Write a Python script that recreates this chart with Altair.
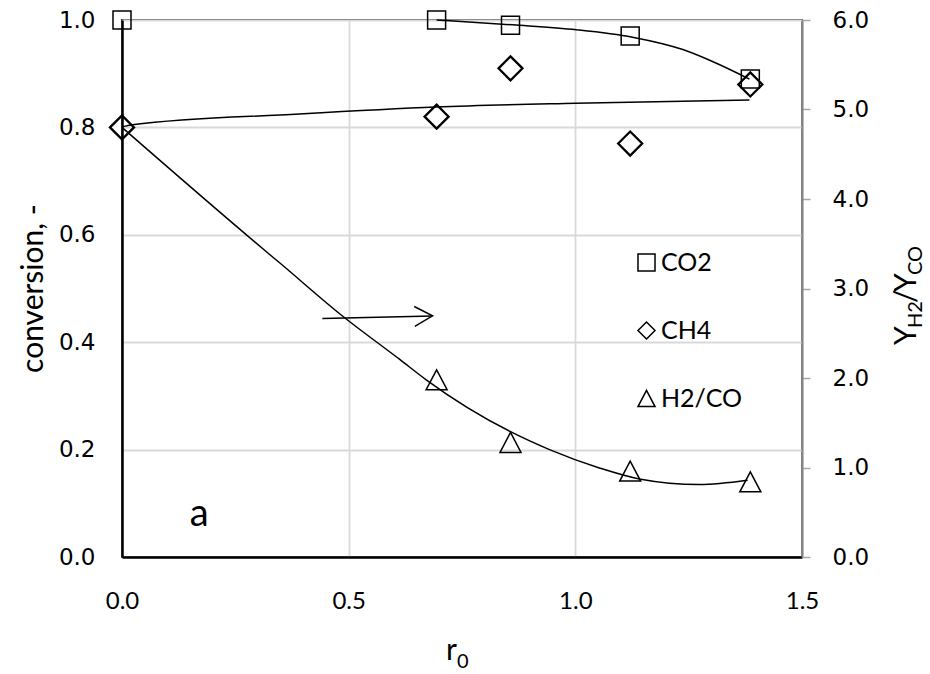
import altair as alt
import pandas as pd

# ---- measured data -------------------------------------------------------
series_names = ["CO2", "CH4", "H2/CO"]

r0 = [0.0, 0.694, 0.857, 1.121, 1.386]
co2 = [1.00, 1.00, 0.99, 0.97, 0.89]
ch4 = [0.80, 0.82, 0.91, 0.77, 0.88]

r0_ratio = [0.694, 0.857, 1.121, 1.386]
h2co = [1.98, 1.28, 0.96, 0.84]

# trend curves
co2_fit_r = [0.694, 0.715, 0.862, 1.002, 1.126, 1.237, 1.310, 1.384]
co2_fit = [1.000, 0.999, 0.991, 0.982, 0.968, 0.945, 0.920, 0.890]
ch4_fit_r = [0.0, 0.023, 0.391, 0.693, 1.000, 1.384]
ch4_fit = [0.801, 0.805, 0.825, 0.838, 0.845, 0.851]
h2co_fit_r = [0.0, 0.314, 0.347, 0.487, 0.612, 0.671, 0.857, 0.943, 1.053, 1.141, 1.274, 1.380]
h2co_fit = [4.80, 3.43, 3.29, 2.69, 2.21, 1.98, 1.40, 1.20, 0.995, 0.872, 0.809, 0.857]

x_ticks = [0.0, 0.5, 1.0, 1.5]
y_ticks = [0.0, 0.2, 0.4, 0.6, 0.8, 1.0]
y2_ticks = [0, 1, 2, 3, 4, 5, 6]

# annotation anchors (data units)
arrow_r = [0.442, 0.685]
arrow_v = [0.444, 0.449]
panel_label = "a"
panel_r, panel_v = 0.170, 0.057

# ---- tables ---------------------------------------------------------------
co2_pts = pd.DataFrame({"r0": r0, "value": co2, "series": "CO2"})
ch4_pts = pd.DataFrame({"r0": r0, "value": ch4, "series": "CH4"})
h2co_pts = pd.DataFrame({"r0": r0_ratio, "ratio": h2co, "series": "H2/CO"})
left_fit = pd.DataFrame({
    "r0": co2_fit_r + ch4_fit_r,
    "value": co2_fit + ch4_fit,
    "series": ["CO2"] * len(co2_fit_r) + ["CH4"] * len(ch4_fit_r),
})
right_fit = pd.DataFrame({"r0": h2co_fit_r, "ratio": h2co_fit})
arrow_df = pd.DataFrame({"r0": arrow_r, "value": arrow_v})
arrow_tip = arrow_df.tail(1)
label_df = pd.DataFrame({"r0": [panel_r], "value": [panel_v], "t": [panel_label]})

# ---- shared encodings -----------------------------------------------------
PLOT_W, PLOT_H = 680, 537
PAD_L, PAD_T = 122, 20
TRI = "M0,-0.95L1,0.95L-1,0.95Z"

x_axis = alt.Axis(
    values=x_ticks, format=".1f", title=None, tickSize=0, labelFlush=False,
    domainColor="black", domainWidth=2.5,
    labelFont="Lato", labelFontSize=24, labelColor="black", labelPadding=32,
    grid=True, gridColor="#d9d9d9", gridWidth=1.8,
)
X = alt.X("r0:Q", scale=alt.Scale(domain=[0, 1.5], nice=False), axis=x_axis)

yl_axis = alt.Axis(
    orient="left", values=y_ticks, format=".1f", tickSize=0, labelFlush=False,
    domainColor="black", domainWidth=2.5,
    labelFont="DejaVu Sans", labelFontSize=23, labelColor="black", labelPadding=27,
    grid=True, gridColor="#d9d9d9", gridWidth=1.8,
    title="conversion, -", titleFont="Lato", titleFontSize=30, titleFontWeight="normal",
    titleColor="black", titleAngle=270, titleBaseline="middle", titleAlign="center",
    titleX=33 - PAD_L, titleY=288 - PAD_T,
)
YL = alt.Y("value:Q", scale=alt.Scale(domain=[0, 1], nice=False, zero=True), axis=yl_axis)

yr_axis = alt.Axis(
    orient="right", values=y2_ticks, format=".1f", title=None, labelFlush=False,
    tickSize=8, tickColor="#a6a6a6", tickWidth=1.5,
    domainColor="#868686", domainWidth=2,
    labelFont="DejaVu Sans", labelFontSize=23, labelColor="black", labelPadding=22,
    grid=False,
)
YR = alt.Y("ratio:Q", scale=alt.Scale(domain=[0, 6], nice=False, zero=True), axis=yr_axis)

legend = alt.Legend(
    orient="none", legendX=512, legendY=230, title=None, padding=0,
    labelFont="Lato", labelFontSize=25, labelColor="black", labelOffset=2,
    rowPadding=42, symbolSize=290, symbolStrokeColor="black",
    symbolStrokeWidth=1.5, symbolFillColor="transparent",
)
SHAPE = alt.Shape(
    "series:N",
    scale=alt.Scale(domain=series_names, range=["square", "diamond", TRI]),
    legend=legend,
)


def points(df, y, size, sw):
    return alt.Chart(df).mark_point(
        filled=False, color="black", opacity=1, size=size, strokeWidth=sw
    ).encode(x=X, y=y, shape=SHAPE)


# ---- left-axis layers -----------------------------------------------------
left_curves = alt.Chart(left_fit).mark_line(
    color="black", strokeWidth=1.5, interpolate="monotone"
).encode(x=X, y=YL, detail="series:N")

arrow_line = alt.Chart(arrow_df).mark_line(color="black", strokeWidth=1.5).encode(x=X, y=YL)
arrow_head = alt.Chart(arrow_tip).mark_point(
    shape="M-1,-0.55L0,0L-1,0.55", size=1296, filled=False, color="black",
    strokeWidth=1.5, opacity=1, angle=358.4,
).encode(x=X, y=YL)

panel = alt.Chart(label_df).mark_text(
    font="Lato", fontSize=38, color="black", align="center", baseline="alphabetic"
).encode(x=X, y=YL, text="t:N")

left = alt.layer(
    left_curves,
    points(co2_pts, YL, 324, 1.5),
    points(ch4_pts, YL, 576, 2.3),
    arrow_line, arrow_head, panel,
)

# ---- right-axis layers ----------------------------------------------------
right_curve = alt.Chart(right_fit).mark_line(
    color="black", strokeWidth=1.5, interpolate="monotone"
).encode(x=X, y=YR)

right = alt.layer(right_curve, points(h2co_pts, YR, 441, 1.5))

# ---- axis titles with subscripts --------------------------------------------
def piece(text, size, px, py, angle=0, align="left"):
    return alt.Chart(pd.DataFrame({"t": [text]})).mark_text(
        font="Lato", fontSize=size, color="black", align=align,
        baseline="alphabetic", angle=angle,
    ).encode(text="t:N", x=alt.value(px - PAD_L), y=alt.value(py - PAD_T))

titles = alt.layer(
    piece("r", 30, 446, 660),
    piece("0", 20, 457, 668),
    piece("Y", 30, 916, 345, 270),
    piece("H2", 20, 922, 328, 270),
    piece("/", 30, 916, 303, 270),
    piece("Y", 30, 916, 292, 270),
    piece("CO", 20, 922, 275, 270),
)

chart = alt.layer(left, right, titles).resolve_scale(y="independent").properties(
    width=PLOT_W, height=PLOT_H,
    autosize=alt.AutoSizeParams(type="none"),
    padding={"left": PAD_L, "top": PAD_T, "right": 930 - PAD_L - PLOT_W, "bottom": 674 - PAD_T - PLOT_H},
    background="white",
).configure_view(stroke="#404040", strokeWidth=2)

chart.save("out.html", embed_options={"renderer": "svg", "actions": False})
